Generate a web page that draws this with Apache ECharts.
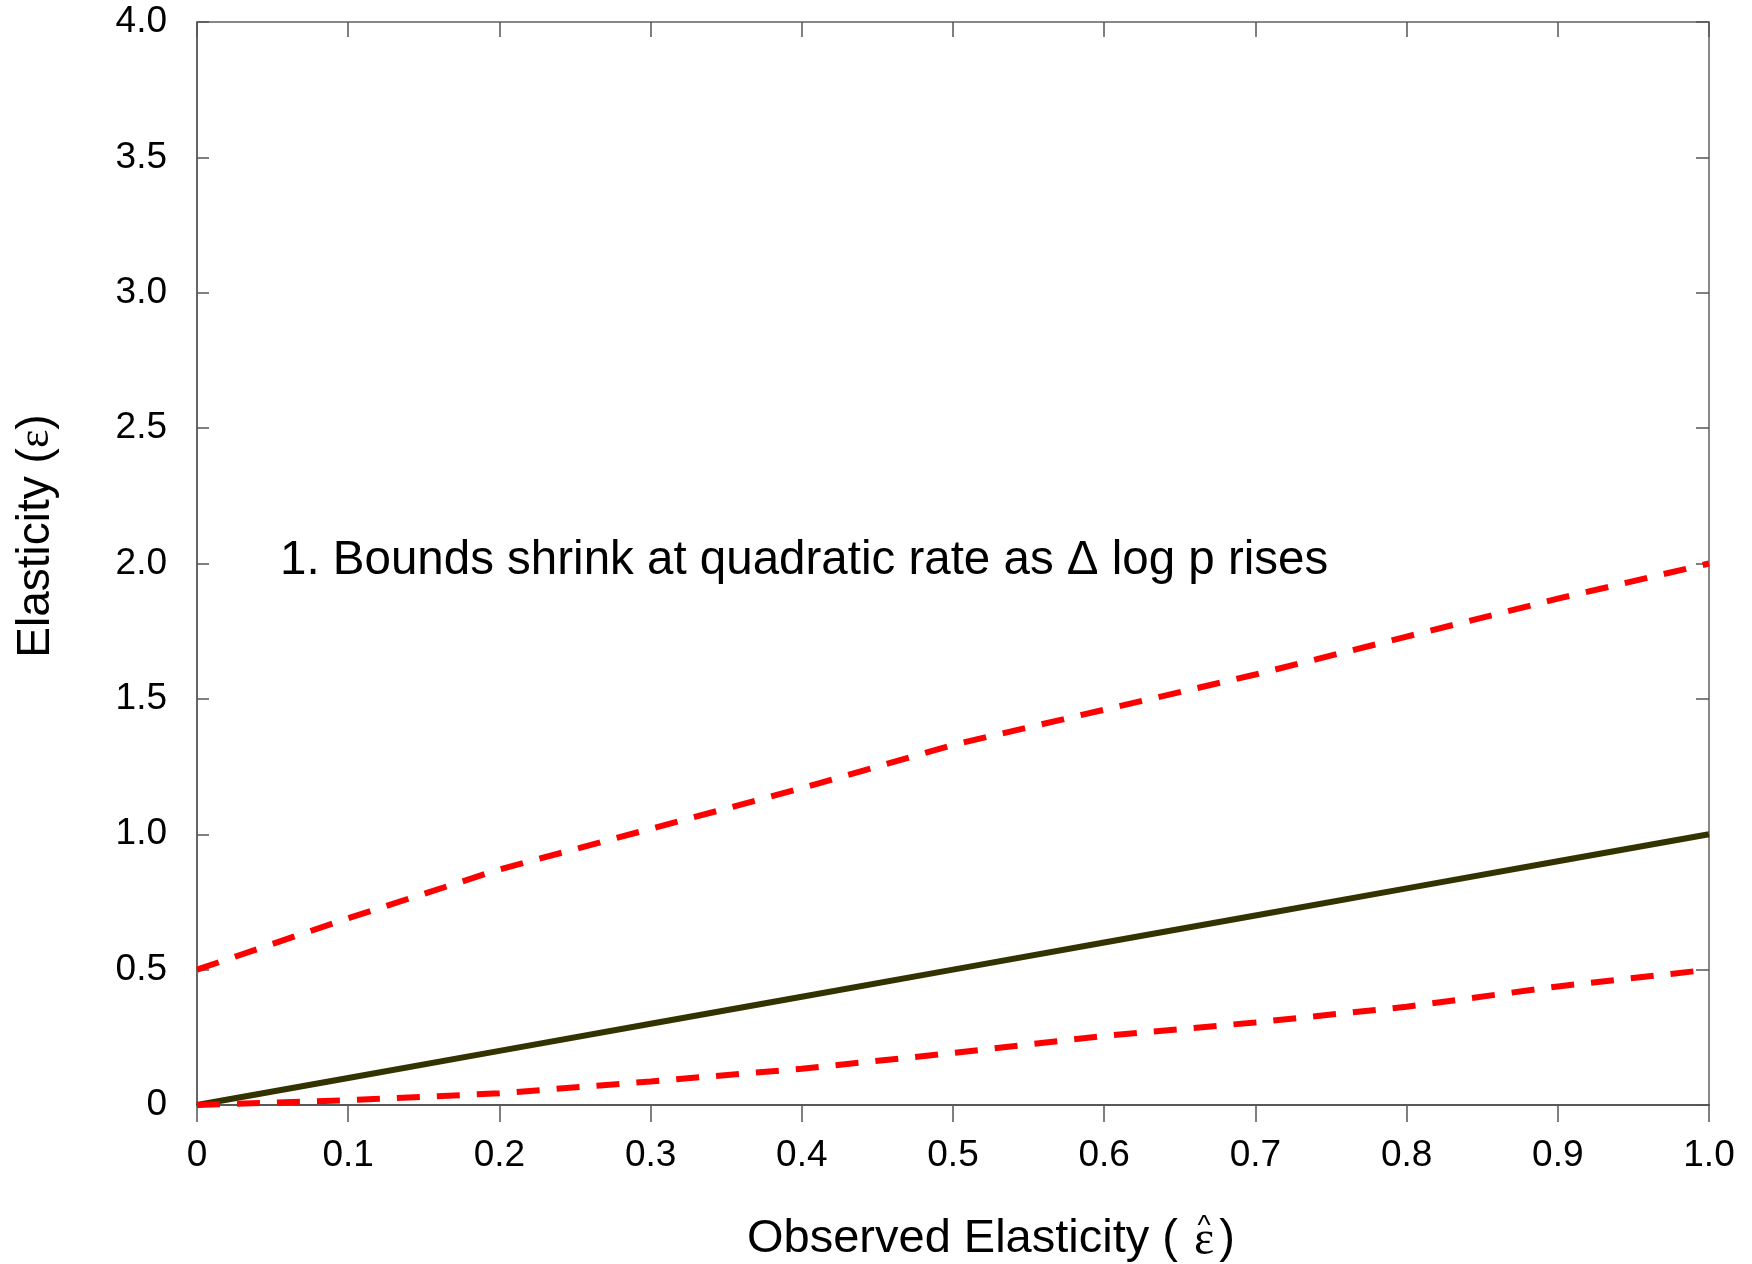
<!DOCTYPE html>
<html>
<head>
<meta charset="utf-8">
<script src="https://cdn.jsdelivr.net/npm/echarts@6/dist/echarts.min.js"></script>
<style>
  html, body { margin: 0; padding: 0; background: #ffffff; }
  #chart { width: 1752px; height: 1264px; }
</style>
</head>
<body>
<div id="chart"></div>
<script>
// Observed elasticity (x) and the implied bounds on the true elasticity (y)
const observed       = [0, 0.1, 0.2, 0.3, 0.4, 0.5, 0.6, 0.7, 0.8, 0.9, 1.0];
const upperBound     = [0.5, 0.69, 0.87, 1.02, 1.17, 1.33, 1.46, 1.59, 1.73, 1.87, 2.0];
const pointEstimate  = [0, 0.1, 0.2, 0.3, 0.4, 0.5, 0.6, 0.7, 0.8, 0.9, 1.0];
const lowerBound     = [0, 0.018, 0.043, 0.087, 0.134, 0.192, 0.255, 0.305, 0.363, 0.438, 0.5];

const xTickLabels = ['0', '0.1', '0.2', '0.3', '0.4', '0.5', '0.6', '0.7', '0.8', '0.9', '1.0'];
const yTickLabels = ['0', '0.5', '1.0', '1.5', '2.0', '2.5', '3.0', '3.5', '4.0'];

const noteText = '1. Bounds shrink at quadratic rate as \u0394 log p rises';
const xTitle = 'Observed Elasticity (';
const yTitle = 'Elasticity ({e|\u03B5})';

const FONT = '"Liberation Sans", Arial, Helvetica, sans-serif';
const SERIF = '"Liberation Serif", "DejaVu Serif", serif';

const pairs = ys => observed.map((x, i) => [x, ys[i]]);

const chart = echarts.init(document.getElementById('chart'), null, { renderer: 'canvas' });

const tickStyle = { color: '#555555', width: 1.5 };
const dashStyle = { color: '#ff0000', width: 6, type: [23, 17], cap: 'butt' };

chart.setOption({
  backgroundColor: '#ffffff',
  animation: false,
  grid: { left: 197, right: 43, top: 22, bottom: 159, containLabel: false },
  xAxis: [
    {
      type: 'value', position: 'bottom', min: 0, max: 1, interval: 0.1,
      axisLine: { show: true, onZero: false, lineStyle: { color: '#222222', width: 1.5 } },
      axisTick: { show: true, inside: false, length: 17, lineStyle: tickStyle },
      splitLine: { show: false },
      axisLabel: {
        margin: 32, color: '#000000', fontSize: 37, fontFamily: FONT,
        formatter: v => xTickLabels[Math.round(v * 10)]
      }
    },
    {
      type: 'value', position: 'top', min: 0, max: 1, interval: 0.1,
      axisLine: { show: true, onZero: false, lineStyle: { color: '#888888', width: 2 } },
      axisTick: { show: true, inside: true, length: 15, lineStyle: tickStyle },
      axisLabel: { show: false },
      splitLine: { show: false }
    }
  ],
  yAxis: [
    {
      type: 'value', position: 'left', min: 0, max: 4, interval: 0.5,
      axisLine: { show: true, onZero: false, lineStyle: { color: '#333333', width: 1.5 } },
      axisTick: { show: true, inside: true, length: 12, lineStyle: tickStyle },
      splitLine: { show: false },
      axisLabel: {
        margin: 30, color: '#000000', fontSize: 37, fontFamily: FONT,
        formatter: v => yTickLabels[Math.round(v * 2)]
      }
    },
    {
      type: 'value', position: 'right', min: 0, max: 4, interval: 0.5,
      axisLine: { show: true, onZero: false, lineStyle: { color: '#888888', width: 2 } },
      axisTick: { show: true, inside: true, length: 13, lineStyle: tickStyle },
      axisLabel: { show: false },
      splitLine: { show: false }
    }
  ],
  series: [
    {
      name: 'Upper bound', type: 'line', xAxisIndex: 0, yAxisIndex: 0,
      data: pairs(upperBound), showSymbol: false, symbol: 'none', z: 3,
      lineStyle: dashStyle
    },
    {
      name: 'Elasticity', type: 'line', xAxisIndex: 0, yAxisIndex: 0,
      data: pairs(pointEstimate), showSymbol: false, symbol: 'none', z: 2,
      lineStyle: { color: '#333300', width: 6 }
    },
    {
      name: 'Lower bound', type: 'line', xAxisIndex: 0, yAxisIndex: 0,
      data: pairs(lowerBound), showSymbol: false, symbol: 'none', z: 3,
      lineStyle: dashStyle
    }
  ],
  graphic: [
    // annotation inside the plot
    {
      type: 'text', x: 280, y: 561, z: 10,
      style: { text: noteText, fill: '#000000', font: '47.5px ' + FONT, align: 'left', verticalAlign: 'middle' }
    },
    // y-axis title, reading bottom to top
    {
      type: 'text', x: 36, y: 536, rotation: Math.PI / 2, z: 10,
      style: {
        text: yTitle, fill: '#000000', font: '46px ' + FONT, align: 'center', verticalAlign: 'middle',
        rich: { e: { fontSize: 44, fontFamily: SERIF, fill: '#000000' } }
      }
    },
    // x-axis title: text, epsilon with a hat, closing parenthesis
    {
      type: 'text', x: 747, y: 1239, z: 10,
      style: { text: xTitle, fill: '#000000', font: '47px ' + FONT, align: 'left', verticalAlign: 'middle' }
    },
    {
      type: 'text', x: 1204, y: 1241, z: 10,
      style: { text: '\u03B5', fill: '#000000', font: '48px ' + SERIF, align: 'center', verticalAlign: 'middle' }
    },
    {
      type: 'text', x: 1204, y: 1226, z: 10,
      style: { text: '^', fill: '#000000', font: '28px ' + FONT, align: 'center', verticalAlign: 'middle' }
    },
    {
      type: 'text', x: 1235, y: 1239, z: 10,
      style: { text: ')', fill: '#000000', font: '47px ' + FONT, align: 'right', verticalAlign: 'middle' }
    }
  ]
});
</script>
</body>
</html>
